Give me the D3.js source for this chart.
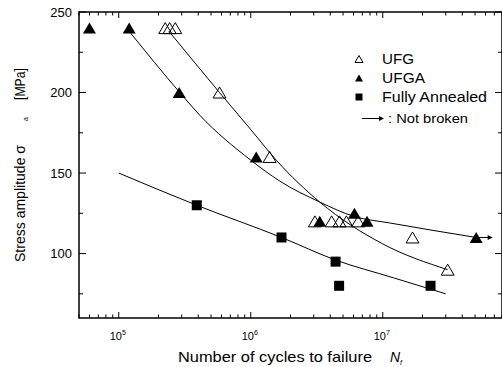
<!DOCTYPE html>
<html lang="en">
<head>
<meta charset="UTF-8">
<title>S-N curves</title>
<script src="https://d3js.org/d3.v7.min.js"></script>
<style>
  body { margin: 0; background: #fff; }
  text { font-family: "Liberation Sans", Arial, sans-serif; fill: #000; }
</style>
</head>
<body>
<script>
// measured points: cycles to failure / stress amplitude (MPa)
const ufgN = [2.25e5, 2.43e5, 2.68e5, 5.8e5, 1.39e6, 3.06e6, 4.1e6, 4.7e6, 5.3e6, 6.5e6, 1.68e7, 3.1e7];
const ufgS = [240, 240, 240, 200, 160, 120, 120, 120, 120, 120, 110, 90];
const ufgaN = [6.0e4, 1.2e5, 2.87e5, 1.1e6, 3.33e6, 6.1e6, 7.6e6, 5.1e7];
const ufgaS = [240, 240, 200, 160, 120, 125, 120, 110];
const annN = [3.9e5, 1.71e6, 4.39e6, 4.67e6, 2.3e7];
const annS = [130, 110, 95, 80, 80];

// fitted curves
const ufgFitN = [2.4e5, 5.8e5, 1.0e6, 1.56e6, 3.33e6, 1.0e7, 3.1e7];
const ufgFitS = [238, 200, 177, 158, 132, 106, 90];
const ufgaFitN = [1.2e5, 2.9e5, 4.1e5, 1.0e6, 1.66e6, 3.33e6, 6.1e6, 1.13e7, 5.1e7];
const ufgaFitS = [238, 200, 186, 158, 145, 132, 123, 119, 110];
const annFitN = [1e5, 3.9e5, 1.71e6, 4.39e6, 1.2e7, 3.0e7];
const annFitS = [150, 130, 110, 96, 85, 75];

// run-out (not broken)
const runoutN = [5.1e7];
const runoutS = [110];
const runoutTo = [6.8e7];

const xMajor = [1e5, 1e6, 1e7];
const xExp = ['5', '6', '7'];
const yMajor = [100, 150, 200, 250];
const yMinor = [75, 125, 175, 225];

const W = 502, H = 367;
const margin = { top: 12, right: 0, bottom: 49, left: 79 };
const width = W - margin.left - margin.right;
const height = H - margin.top - margin.bottom;

const svg = d3.select('body').append('svg')
    .attr('width', W).attr('height', H);
const g = svg.append('g')
    .attr('transform', 'translate(' + margin.left + ',' + margin.top + ')');

const x = d3.scaleLog().domain([5e4, 8e7]).range([0, width]);
const y = d3.scaleLinear().domain([60, 250]).range([height, 0]);

// minor ticks on log axis
const xMinor = [];
[4, 5, 6, 7].forEach(e => {
    for (let k = 2; k <= 9; k++) {
        const v = k * Math.pow(10, e);
        if (v >= 5e4 && v <= 8e7) xMinor.push(v);
    }
});

// frame
g.append('rect')
    .attr('x', 0).attr('y', 0)
    .attr('width', width).attr('height', height)
    .attr('fill', 'none').attr('stroke', '#000').attr('stroke-width', 1.5);

// ticks (inward, on all four sides)
function tickLines(vals, len, horizontal) {
    vals.forEach(v => {
        if (horizontal) {
            const px = x(v);
            g.append('line').attr('x1', px).attr('x2', px).attr('y1', height).attr('y2', height - len)
                .attr('stroke', '#000');
            g.append('line').attr('x1', px).attr('x2', px).attr('y1', 0).attr('y2', len)
                .attr('stroke', '#000');
        } else {
            const py = y(v);
            g.append('line').attr('x1', 0).attr('x2', len).attr('y1', py).attr('y2', py)
                .attr('stroke', '#000');
            g.append('line').attr('x1', width).attr('x2', width - len).attr('y1', py).attr('y2', py)
                .attr('stroke', '#000');
        }
    });
}
tickLines(xMajor, 6, true);
tickLines(xMinor, 3.5, true);
tickLines(yMajor, 7, false);
tickLines(yMinor, 4, false);

// y tick labels
g.selectAll('.ylab').data(yMajor).enter().append('text')
    .attr('x', -7).attr('y', d => y(d))
    .attr('dy', '0.36em')
    .attr('text-anchor', 'end')
    .style('font-size', '13px')
    .text(d => d);

// x tick labels 10^n
xMajor.forEach((v, i) => {
    const t = g.append('text')
        .attr('x', x(v) - 1).attr('y', height + 22)
        .attr('text-anchor', 'middle')
        .style('font-size', '11px');
    t.append('tspan').text('10');
    t.append('tspan').attr('dy', -5).style('font-size', '7px').text(xExp[i]);
});

// text with a fixed drawn width
function fitText(parent, tx, ty, str, size, len) {
    return parent.append('text')
        .attr('x', tx).attr('y', ty)
        .attr('textLength', len).attr('lengthAdjust', 'spacingAndGlyphs')
        .style('font-size', size + 'px')
        .text(str);
}

// axis titles
fitText(svg, 178, 362, 'Number of cycles to failure', 15, 194);
svg.append('text').attr('x', 390).attr('y', 362)
    .style('font-size', '14px').style('font-style', 'italic').text('N');
svg.append('text').attr('x', 400).attr('y', 365)
    .style('font-size', '7px').style('font-style', 'italic').text('f');

const yt = svg.append('g').attr('transform', 'translate(25,262) rotate(-90)');
fitText(yt, 0, 0, 'Stress amplitude σ', 14, 117);
yt.append('text').attr('x', 141).attr('y', 3).style('font-size', '7px').text('a');
fitText(yt, 162, 0, '[MPa]', 14, 32);

// fitted curves
const line = d3.line()
    .x(d => x(d[0])).y(d => y(d[1]))
    .curve(d3.curveMonotoneX);
[[ufgFitN, ufgFitS], [ufgaFitN, ufgaFitS], [annFitN, annFitS]].forEach(([ns, ss]) => {
    g.append('path')
        .datum(ns.map((n, i) => [n, ss[i]]))
        .attr('d', line)
        .attr('fill', 'none').attr('stroke', '#000').attr('stroke-width', 1);
});

// run-out arrow
runoutN.forEach((n, i) => {
    const x0 = x(n), x1 = x(runoutTo[i]), py = y(runoutS[i]);
    g.append('line').attr('x1', x0).attr('x2', x1 - 4).attr('y1', py).attr('y2', py)
        .attr('stroke', '#000');
    g.append('path')
        .attr('d', `M${x1},${py}L${x1 - 5},${py - 2.5}L${x1 - 5},${py + 2.5}Z`)
        .attr('fill', '#000');
});

// markers
function tri(cx, cy, w, h) {
    return `M${cx},${cy - h / 2}L${cx + w / 2},${cy + h / 2}L${cx - w / 2},${cy + h / 2}Z`;
}
g.selectAll('.ufg').data(ufgN).enter().append('path')
    .attr('d', (d, i) => tri(x(d), y(ufgS[i]), 13, 11))
    .attr('fill', 'none').attr('stroke', '#000').attr('stroke-width', 1);
g.selectAll('.ufga').data(ufgaN).enter().append('path')
    .attr('d', (d, i) => tri(x(d), y(ufgaS[i]), 13, 11))
    .attr('fill', '#000');
g.selectAll('.ann').data(annN).enter().append('rect')
    .attr('x', d => x(d) - 5).attr('y', (d, i) => y(annS[i]) - 5)
    .attr('width', 10).attr('height', 10)
    .attr('fill', '#000');

// legend
const lg = svg.append('g');
lg.append('path').attr('d', tri(359, 59, 8, 7)).attr('fill', 'none').attr('stroke', '#000');
lg.append('path').attr('d', tri(359, 78, 8, 7)).attr('fill', '#000');
lg.append('rect').attr('x', 355.5).attr('y', 93.5).attr('width', 7).attr('height', 7).attr('fill', '#000');
fitText(lg, 382, 64, 'UFG', 14, 32);
fitText(lg, 382, 83, 'UFGA', 14, 43);
fitText(lg, 382, 102, 'Fully Annealed', 14, 105);
lg.append('line').attr('x1', 362).attr('x2', 380).attr('y1', 118.5).attr('y2', 118.5).attr('stroke', '#000');
lg.append('path').attr('d', 'M384,118.5L379,116L379,121Z').attr('fill', '#000');
fitText(lg, 388, 123, ': Not broken', 12, 80);
</script>
</body>
</html>
